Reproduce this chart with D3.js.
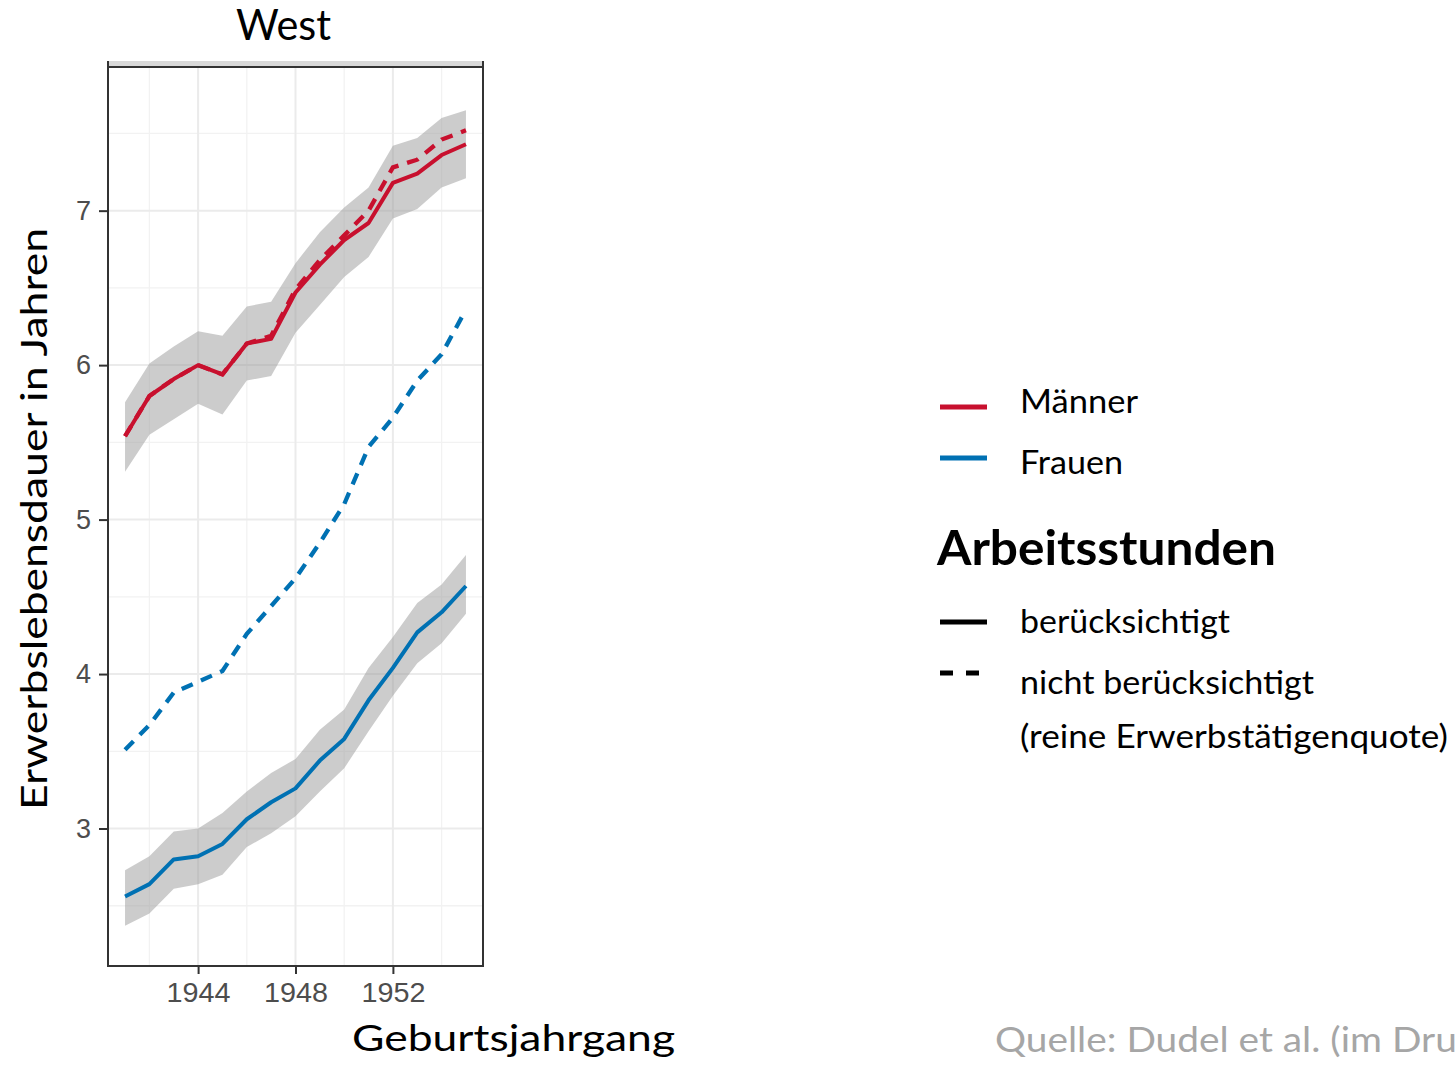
<!DOCTYPE html>
<html>
<head>
<meta charset="utf-8">
<script src="https://cdn.jsdelivr.net/npm/d3@7"></script>
<style>
  body { margin: 0; background: #fff; }
  text { font-family: Lato, "Noto Sans", sans-serif; }
</style>
</head>
<body>
<div id="viz"></div>
<script>
// data (West, Geburtsjahrgang 1941-1955)
var years = [1941, 1942, 1943, 1944, 1945, 1946, 1947, 1948, 1949, 1950, 1951, 1952, 1953, 1954, 1955];

var menSolid  = [5.54, 5.80, 5.91, 6.00, 5.94, 6.14, 6.17, 6.47, 6.65, 6.81, 6.92, 7.18, 7.24, 7.36, 7.43];
var menLow    = [5.31, 5.55, 5.65, 5.75, 5.68, 5.90, 5.93, 6.21, 6.39, 6.57, 6.70, 6.95, 7.01, 7.15, 7.21];
var menHigh   = [5.76, 6.01, 6.12, 6.22, 6.19, 6.38, 6.41, 6.66, 6.86, 7.02, 7.15, 7.42, 7.47, 7.60, 7.65];
var menDashed = [5.54, 5.80, 5.91, 6.00, 5.94, 6.14, 6.19, 6.49, 6.68, 6.84, 7.00, 7.28, 7.33, 7.46, 7.52];

var womenSolid  = [2.56, 2.64, 2.80, 2.82, 2.90, 3.06, 3.17, 3.26, 3.44, 3.58, 3.83, 4.04, 4.27, 4.40, 4.57];
var womenLow    = [2.37, 2.45, 2.61, 2.64, 2.70, 2.88, 2.97, 3.08, 3.24, 3.39, 3.63, 3.86, 4.07, 4.20, 4.39];
var womenHigh   = [2.73, 2.82, 2.98, 3.00, 3.10, 3.24, 3.36, 3.45, 3.64, 3.77, 4.04, 4.24, 4.46, 4.58, 4.77];
var womenDashed = [3.51, 3.67, 3.88, 3.95, 4.02, 4.26, 4.44, 4.62, 4.85, 5.10, 5.47, 5.66, 5.90, 6.07, 6.36];

var xTicks = [1944, 1948, 1952];
var xMinor = [1942, 1946, 1950, 1954];
var yTicks = [3, 4, 5, 6, 7];
var yMinor = [2.5, 3.5, 4.5, 5.5, 6.5, 7.5];

var legendSex = ["Männer", "Frauen"];
var legendHours = ["berücksichtigt", "nicht berücksichtigt", "(reine Erwerbstätigenquote)"];

// dimensions (panel edges in px)
var width = 1455;
var height = 1067;
var pLeft = 108, pRight = 483, pTop = 67, pBottom = 966;
var red = "#c8102e";
var blue = "#0071b3";

var svg = d3.select("#viz")
    .append("svg")
    .attr("width", width)
    .attr("height", height);

var xscale = d3.scaleLinear().domain([1940.3, 1955.7]).range([pLeft, pRight]);
var yscale = d3.scaleLinear().domain([2.11, 7.93]).range([pBottom, pTop]);

// stretch text to the width it has in the picture
function fit(sel, w) {
    return sel.attr("textLength", w).attr("lengthAdjust", "spacingAndGlyphs");
}

// grid: minor first, then major
svg.selectAll(".xminor").data(xMinor).enter().append("line")
    .attr("x1", function(d) { return xscale(d); }).attr("x2", function(d) { return xscale(d); })
    .attr("y1", pTop).attr("y2", pBottom)
    .attr("stroke", "#f2f2f2").attr("stroke-width", 1.3);
svg.selectAll(".yminor").data(yMinor).enter().append("line")
    .attr("y1", function(d) { return yscale(d); }).attr("y2", function(d) { return yscale(d); })
    .attr("x1", pLeft).attr("x2", pRight)
    .attr("stroke", "#f2f2f2").attr("stroke-width", 1.3);
svg.selectAll(".xmajor").data(xTicks).enter().append("line")
    .attr("x1", function(d) { return xscale(d); }).attr("x2", function(d) { return xscale(d); })
    .attr("y1", pTop).attr("y2", pBottom)
    .attr("stroke", "#ebebeb").attr("stroke-width", 2);
svg.selectAll(".ymajor").data(yTicks).enter().append("line")
    .attr("y1", function(d) { return yscale(d); }).attr("y2", function(d) { return yscale(d); })
    .attr("x1", pLeft).attr("x2", pRight)
    .attr("stroke", "#ebebeb").attr("stroke-width", 2);

var groups = [
    { low: menLow, high: menHigh, solid: menSolid, dashed: menDashed, color: red },
    { low: womenLow, high: womenHigh, solid: womenSolid, dashed: womenDashed, color: blue }
];

var area = d3.area()
    .x(function(d, i) { return xscale(years[i]); })
    .y0(function(d) { return yscale(d[0]); })
    .y1(function(d) { return yscale(d[1]); });

var line = d3.line()
    .x(function(d, i) { return xscale(years[i]); })
    .y(function(d) { return yscale(d); });

// confidence bands
groups.forEach(function(g) {
    svg.append("path")
        .datum(g.low.map(function(v, i) { return [v, g.high[i]]; }))
        .attr("d", area)
        .attr("fill", "#999")
        .attr("fill-opacity", 0.5);
});

// lines: dashed = nicht berücksichtigt, solid = berücksichtigt
groups.forEach(function(g) {
    svg.append("path")
        .datum(g.dashed)
        .attr("d", line)
        .attr("fill", "none")
        .attr("stroke", g.color)
        .attr("stroke-width", 4.3)
        .attr("stroke-dasharray", "12,9");
    svg.append("path")
        .datum(g.solid)
        .attr("d", line)
        .attr("fill", "none")
        .attr("stroke", g.color)
        .attr("stroke-width", 4)
        .attr("stroke-linejoin", "round");
});

// panel border and the cut-off strip on top
svg.append("rect")
    .attr("x", pLeft).attr("y", 61).attr("width", pRight - pLeft).attr("height", pTop - 61)
    .attr("fill", "#d9d9d9");
svg.append("line").attr("x1", pLeft).attr("x2", pLeft).attr("y1", 61).attr("y2", pTop)
    .attr("stroke", "#333").attr("stroke-width", 2);
svg.append("line").attr("x1", pRight).attr("x2", pRight).attr("y1", 61).attr("y2", pTop)
    .attr("stroke", "#333").attr("stroke-width", 2);
svg.append("rect")
    .attr("x", pLeft).attr("y", pTop).attr("width", pRight - pLeft).attr("height", pBottom - pTop)
    .attr("fill", "none").attr("stroke", "#333").attr("stroke-width", 2);

// axes
var yAxis = svg.append("g")
    .attr("transform", "translate(" + pLeft + ",0)")
    .call(d3.axisLeft(yscale).tickValues(yTicks).tickSize(9).tickPadding(8).tickFormat(d3.format("d")));
var xAxis = svg.append("g")
    .attr("transform", "translate(0," + pBottom + ")")
    .call(d3.axisBottom(xscale).tickValues(xTicks).tickSize(8).tickPadding(9).tickFormat(d3.format("d")));

[yAxis, xAxis].forEach(function(ax) {
    ax.select(".domain").remove();
    ax.selectAll("line").attr("stroke", "#333").attr("stroke-width", 2);
    ax.selectAll("text")
        .attr("fill", "#4d4d4d")
        .style("font-family", "'Liberation Sans', Arial, sans-serif")
        .style("font-size", "27px");
});
xAxis.selectAll("text").each(function() { fit(d3.select(this), 64); });

// titles
fit(svg.append("text").attr("x", 236).attr("y", 40).style("font-size", "42px").text("West"), 95);
fit(svg.append("text").attr("x", 352).attr("y", 1051).style("font-size", "36px").text("Geburtsjahrgang"), 323);
fit(svg.append("text")
    .attr("transform", "translate(47,810) rotate(-90)")
    .style("font-size", "37px")
    .text("Erwerbslebensdauer in Jahren"), 582);

// legend: Geschlecht
var sexY = [407, 458];
var sexBase = [413, 474];
var sexWidth = [118, 103];
var sexColor = [red, blue];
legendSex.forEach(function(name, i) {
    svg.append("line")
        .attr("x1", 940).attr("x2", 987).attr("y1", sexY[i]).attr("y2", sexY[i])
        .attr("stroke", sexColor[i]).attr("stroke-width", 5);
    fit(svg.append("text").attr("x", 1020).attr("y", sexBase[i]).style("font-size", "32px").text(name), sexWidth[i]);
});

// legend: Arbeitsstunden
fit(svg.append("text").attr("x", 937).attr("y", 565)
    .style("font-size", "48px").style("font-weight", "bold")
    .text("Arbeitsstunden"), 339);

svg.append("line")
    .attr("x1", 940).attr("x2", 987).attr("y1", 622).attr("y2", 622)
    .attr("stroke", "#000").attr("stroke-width", 5);
svg.append("line")
    .attr("x1", 940).attr("x2", 980).attr("y1", 673).attr("y2", 673)
    .attr("stroke", "#000").attr("stroke-width", 5).attr("stroke-dasharray", "13,13");

var hoursBase = [633, 694, 748];
var hoursWidth = [210, 294, 428];
legendHours.forEach(function(t, i) {
    fit(svg.append("text").attr("x", 1020).attr("y", hoursBase[i]).style("font-size", "32px").text(t), hoursWidth[i]);
});

// source note, cut off at the right edge like in the slide
var source = "Quelle: Dudel et al. (im Druck)";
var q = svg.append("text")
    .attr("fill", "#a6a6a6")
    .style("font-size", "34px")
    .text(source);
var visible = q.node().getSubStringLength(0, "Quelle: Dudel et al. (im Dru".length);
q.attr("transform", "translate(995,1052) scale(" + (462 / visible) + ",1)");
</script>
</body>
</html>
